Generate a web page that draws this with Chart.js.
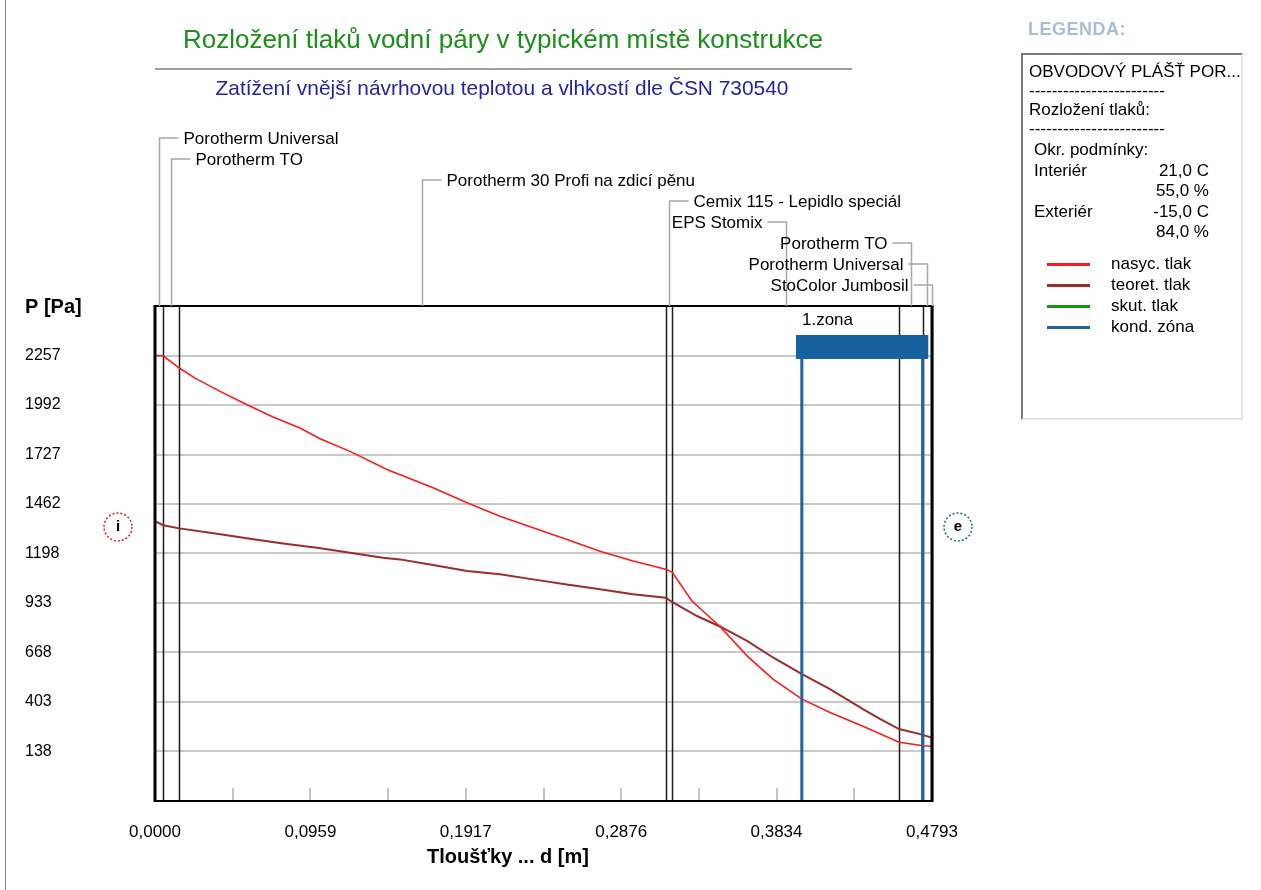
<!DOCTYPE html>
<html><head><meta charset="utf-8">
<script src="https://cdn.jsdelivr.net/npm/chart.js@4.4.1/dist/chart.umd.min.js"></script>
<style>
html,body{margin:0;padding:0;background:#fff;width:1261px;height:890px;overflow:hidden;}
#c{position:absolute;left:0;top:0;}
#edge{position:absolute;left:5px;top:0;width:1px;height:890px;background:#8a8a8a;}
#legTitle{position:absolute;left:1028px;top:19px;font:bold 18px 'Liberation Sans',Arial,sans-serif;color:#a6bed8;letter-spacing:0.5px;}
#leg{position:absolute;left:1021px;top:53px;width:218px;height:363px;background:#fff;border-left:2px solid #7c7c7c;border-top:2px solid #7c7c7c;border-right:2px solid #e4e4e4;border-bottom:2px solid #e4e4e4;}
.t{position:absolute;font:17px 'Liberation Sans',Arial,sans-serif;color:#000;white-space:nowrap;line-height:18px;}
.ln{position:absolute;width:43px;height:3px;}
</style></head>
<body>
<canvas id="c" width="1261" height="890"></canvas>
<div id="edge"></div>
<div id="legTitle">LEGENDA:</div>
<div id="leg"></div>
<script>
// ---------- data ----------
const chartTitle = 'Rozložení tlaků vodní páry v typickém místě konstrukce';
const chartSubtitle = 'Zatížení vnější návrhovou teplotou a vlhkostí dle ČSN 730540';
const yAxisTitle = 'P [Pa]';
const xAxisTitle = 'Tloušťky ... d [m]';

const layerNames = ['Porotherm Universal','Porotherm TO','Porotherm 30 Profi na zdicí pěnu','Cemix 115 - Lepidlo speciál','EPS Stomix','Porotherm TO','Porotherm Universal','StoColor Jumbosil'];
const layerThickness = [0.005, 0.010, 0.300, 0.004, 0.140, 0.015, 0.005, 0.0003];

// saturated vapour pressure (nasyc. tlak)
const xSat = [0, 0.005, 0.015, 0.0247, 0.0401, 0.0568, 0.0728, 0.0894, 0.1018, 0.1203, 0.1431, 0.1715, 0.1925, 0.2128, 0.2332, 0.2541, 0.2745, 0.2949, 0.315, 0.319, 0.3312, 0.3485, 0.3652, 0.3812, 0.3991, 0.4164, 0.4367, 0.459, 0.474, 0.479, 0.4793];
const pSat = [2257, 2255, 2190, 2136, 2065, 1994, 1928, 1869, 1812, 1744, 1647, 1549, 1469, 1397, 1335, 1273, 1210, 1157, 1113, 1098, 943, 807, 650, 525, 418, 347, 273, 187, 169, 166, 166];

// theoretical partial pressure (teoret. tlak)
const xTheor = [0, 0.005, 0.015, 0.0382, 0.0586, 0.079, 0.0999, 0.1203, 0.1406, 0.1511, 0.1715, 0.1925, 0.2128, 0.2332, 0.2541, 0.2745, 0.2949, 0.315, 0.319, 0.3343, 0.3485, 0.3652, 0.3812, 0.3991, 0.4164, 0.4367, 0.4472, 0.459, 0.4719, 0.479, 0.4793];
const pTheor = [1371, 1349, 1332, 1303, 1277, 1251, 1228, 1202, 1175, 1166, 1136, 1104, 1086, 1059, 1032, 1006, 979, 961, 938, 863, 807, 730, 641, 552, 472, 365, 312, 258, 231, 212, 138];

// condensation zone
const zoneName = '1.zona';
const zoneBounds = [0.3990, 0.4735];
const zoneBarRange = [0.3954, 0.4770];
const zoneBarLevel = 2302;
const zoneBarBottom = 2240;

// axes
const yRange = [-127, 2522];
const yTicks = [138, 403, 668, 933, 1198, 1462, 1727, 1992, 2257];
const yTickLabels = ['138','403','668','933','1198','1462','1727','1992','2257'];
const xRange = [0, 0.4793];
const xTicks = [0, 0.0959, 0.1917, 0.2876, 0.3834, 0.4793];
const xTickLabels = ['0,0000','0,0959','0,1917','0,2876','0,3834','0,4793'];
const xMinorTicks = [0.0479, 0.0959, 0.1438, 0.1917, 0.2397, 0.2876, 0.3355, 0.3834, 0.4314];

// legend panel
const legendHeader = ['OBVODOVÝ PLÁŠŤ POR...', '------------------------', 'Rozložení tlaků:', '------------------------'];
const condLabel = 'Okr. podmínky:';
const condNames = ['Interiér', 'Exteriér'];
const condTemp = ['21,0 C', '-15,0 C'];
const condRH = ['55,0 %', '84,0 %'];
const seriesNames = ['nasyc. tlak', 'teoret. tlak', 'skut. tlak', 'kond. zóna'];
const seriesColors = ['#ff1a1a', '#9e2a2a', '#139a13', '#1f63a0'];

// ---------- legend panel (HTML) ----------
(function(){
  const leg = document.getElementById('leg');
  function add(txt, l, t){ const d=document.createElement('div'); d.className='t'; d.textContent=txt; d.style.left=l+'px'; d.style.top=t+'px'; leg.appendChild(d); return d; }
  add(legendHeader[0], 6, 8);
  add(legendHeader[1], 6, 27);
  add(legendHeader[2], 6, 46);
  add(legendHeader[3], 6, 65);
  add(condLabel, 11, 86);
  condNames.forEach((n,i)=>{
    add(n, 11, 107 + i*41);
    const tt = add(condTemp[i], 0, 107 + i*41); tt.style.left='auto'; tt.style.right='32px';
    const rh = add(condRH[i], 0, 127 + i*41); rh.style.left='auto'; rh.style.right='32px';
  });
  seriesNames.forEach((n,i)=>{
    const l=document.createElement('div'); l.className='ln'; l.style.background=seriesColors[i];
    l.style.left='24px'; l.style.top=(208 + i*21)+'px'; leg.appendChild(l);
    add(n, 88, 200 + i*21);
  });
})();

// ---------- chart ----------
const FONT = "'Liberation Sans', Arial, sans-serif";
const bounds = [];
{ let s = 0; layerThickness.forEach(t => { s += t; bounds.push(s); }); }
const mids = []; { let s=0; layerThickness.forEach(t=>{ mids.push(s + t/2); s+=t; }); }

const deco = {
  id: 'deco',
  beforeDatasetsDraw(chart){
    const {ctx, chartArea:a, scales:{x}} = chart;
    ctx.save();
    ctx.strokeStyle = '#c4c4c4'; ctx.lineWidth = 2;
    xMinorTicks.forEach(v => { const px = Math.round(x.getPixelForValue(v)); ctx.beginPath(); ctx.moveTo(px, a.bottom); ctx.lineTo(px, a.bottom - 13); ctx.stroke(); });
    ctx.strokeStyle = '#1c1c1c'; ctx.lineWidth = 1.5;
    bounds.slice(0, -1).forEach(v => { const px = Math.round(x.getPixelForValue(v)) + 0.5; ctx.beginPath(); ctx.moveTo(px, a.top); ctx.lineTo(px, a.bottom); ctx.stroke(); });
    ctx.restore();
  },
  afterDraw(chart){
    const {ctx, chartArea:a, scales:{x, y}} = chart;
    ctx.save();
    // frame
    ctx.strokeStyle = '#000';
    ctx.lineWidth = 2; ctx.beginPath(); ctx.moveTo(a.left, a.top); ctx.lineTo(a.right, a.top); ctx.moveTo(a.left, a.bottom); ctx.lineTo(a.right, a.bottom); ctx.stroke();
    ctx.lineWidth = 3; ctx.beginPath(); ctx.moveTo(a.left, a.top-1); ctx.lineTo(a.left, a.bottom+1); ctx.moveTo(a.right, a.top-1); ctx.lineTo(a.right, a.bottom+1); ctx.stroke();
    // title block
    ctx.textBaseline = 'middle'; ctx.textAlign = 'center';
    ctx.fillStyle = '#1a8f1a'; ctx.font = "26px " + FONT;
    ctx.fillText(chartTitle, a.left + 348, 41, 646);
    ctx.strokeStyle = '#a0a0a0'; ctx.lineWidth = 2;
    ctx.beginPath(); ctx.moveTo(a.left, 69); ctx.lineTo(a.left + 697, 69); ctx.stroke();
    ctx.fillStyle = '#2323a3'; ctx.font = "21px " + FONT;
    ctx.fillText(chartSubtitle, a.left + 347, 89, 573);
    // axis titles
    ctx.fillStyle = '#000'; ctx.font = "bold 20px " + FONT;
    ctx.textAlign = 'left'; ctx.fillText(yAxisTitle, 25, a.top + 1);
    ctx.textAlign = 'center'; ctx.fillText(xAxisTitle, a.left + 353, 857);
    // layer labels with leaders
    ctx.font = "17px " + FONT;
    layerNames.forEach((n, i) => {
      const xm = Math.round(x.getPixelForValue(mids[i])) + 0.5;
      const ry = a.top - 168 + 21 * i;
      const rightSide = xm > a.left + 0.7 * (a.right - a.left);
      ctx.strokeStyle = '#a8a8a8'; ctx.lineWidth = 1.5;
      ctx.beginPath(); ctx.moveTo(xm, a.top); ctx.lineTo(xm, ry);
      ctx.lineTo(rightSide ? xm - 19 : xm + 19, ry); ctx.stroke();
      ctx.fillStyle = '#000';
      ctx.textAlign = rightSide ? 'right' : 'left';
      ctx.fillText(n, rightSide ? xm - 24 : xm + 24, ry + 1);
    });
    // zone label
    ctx.textAlign = 'left'; ctx.font = "17px " + FONT; ctx.fillStyle = '#000';
    ctx.fillText(zoneName, x.getPixelForValue(zoneBarRange[0]) + 6, y.getPixelForValue(zoneBarLevel) - 27);
    // i / e markers
    function marker(cx, cy, col, ch){
      ctx.setLineDash([2,2]); ctx.strokeStyle = col; ctx.lineWidth = 1.5;
      ctx.beginPath(); ctx.arc(cx, cy, 14, 0, Math.PI*2); ctx.stroke(); ctx.setLineDash([]);
      ctx.fillStyle = '#000'; ctx.font = "bold 15px " + FONT; ctx.textAlign = 'center'; ctx.fillText(ch, cx, cy);
    }
    marker(a.left - 37, a.top + 221, '#e02020', 'i');
    marker(a.right + 26, a.top + 221, '#1f63a0', 'e');
    ctx.restore();
  }
};

const toPts = (xs, ps) => xs.map((v, i) => ({x: v, y: ps[i]}));

const datasets = [];
zoneBounds.forEach(z => datasets.push({ data: [{x:z, y:yRange[0]}, {x:z, y:zoneBarBottom}], showLine:true, borderColor: seriesColors[3], borderWidth: 3, pointRadius: 0, borderCapStyle:'butt' }));
datasets.push({ data: [{x:zoneBarRange[0], y:zoneBarLevel}, {x:zoneBarRange[1], y:zoneBarLevel}], showLine:true, borderColor: '#17629e', borderWidth: 24, pointRadius: 0, borderCapStyle:'butt' });
datasets.push({ label: seriesNames[0], data: toPts(xSat, pSat), showLine:true, borderColor: seriesColors[0], borderWidth: 1.6, pointRadius: 0, tension: 0 });
datasets.push({ label: seriesNames[1], data: toPts(xTheor, pTheor), showLine:true, borderColor: seriesColors[1], borderWidth: 2, pointRadius: 0, tension: 0 });

new Chart(document.getElementById('c'), {
  type: 'scatter',
  data: { datasets },
  options: {
    responsive: false, animation: false, devicePixelRatio: 1,
    layout: { padding: { left: 25, top: 306, right: 329, bottom: 0 } },
    plugins: { legend: { display: false }, tooltip: { enabled: false }, title: { display: false } },
    scales: {
      x: {
        type: 'linear', min: xRange[0], max: xRange[1],
        afterBuildTicks: s => { s.ticks = xTicks.map(v => ({value: v})); },
        afterFit: s => { s.height = 89; },
        grid: { display: false }, border: { display: false },
        ticks: { autoSkip: false, maxRotation: 0, padding: 13, color: '#000', font: { family: FONT, size: 17 }, callback: (v, i) => xTickLabels[i] }
      },
      y: {
        type: 'linear', min: yRange[0], max: yRange[1],
        afterBuildTicks: s => { s.ticks = yTicks.map(v => ({value: v})); },
        afterFit: s => { s.width = 130; },
        grid: { color: '#c8c8c8', lineWidth: 2, drawTicks: false }, border: { display: false },
        ticks: { crossAlign: 'far', padding: 0, color: '#000', font: { family: FONT, size: 16 }, callback: (v, i) => yTickLabels[i] }
      }
    }
  },
  plugins: [deco]
});
</script>
</body></html>
